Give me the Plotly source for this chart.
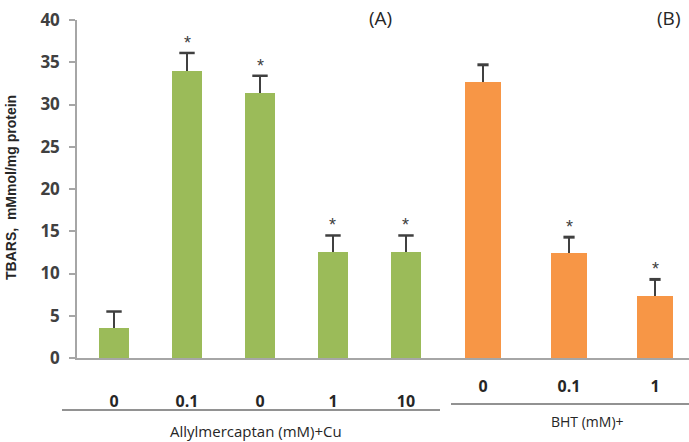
import plotly.graph_objects as go

W, H = 689, 442

# Data
a_labels = ["0", "0.1", "0", "1", "10"]
a_values = [3.5, 34.0, 31.4, 12.5, 12.5]
a_err = [2.0, 2.1, 2.0, 2.0, 2.0]
a_star = [False, True, True, True, True]

b_labels = ["0", "0.1", "1"]
b_values = [32.7, 12.4, 7.3]
b_err = [2.0, 1.9, 2.0]
b_star = [False, True, True]

y_ticks = [0, 5, 10, 15, 20, 25, 30, 35, 40]

GREEN = "#9BBB59"
ORANGE = "#F79646"
DARK = "#404040"
GRAY = "#A6A6A6"
TXT = "#262626"

def px(x):
    return x / W

def py(y):
    return (H - y) / H

a_x = list(range(len(a_labels)))
b_x = list(range(len(b_labels)))
a_top = [v + e for v, e in zip(a_values, a_err)]
b_top = [v + e for v, e in zip(b_values, b_err)]

fig = go.Figure()
fig.add_trace(go.Bar(
    x=a_x, y=a_values, width=0.41, marker=dict(color=GREEN, line=dict(width=0)),
    error_y=dict(type="data", array=a_err, arrayminus=[0]*len(a_err), symmetric=False,
                 color=DARK, thickness=2, width=0),
    xaxis="x", yaxis="y", showlegend=False))
fig.add_trace(go.Scatter(
    x=a_x, y=a_top, mode="markers", xaxis="x", yaxis="y", showlegend=False,
    marker=dict(symbol="line-ew", size=11, line=dict(color=DARK, width=2.5))))
fig.add_trace(go.Bar(
    x=b_x, y=b_values, width=0.41, marker=dict(color=ORANGE, line=dict(width=0)),
    error_y=dict(type="data", array=b_err, arrayminus=[0]*len(b_err), symmetric=False,
                 color=DARK, thickness=2.5, width=0),
    xaxis="x2", yaxis="y2", showlegend=False))
fig.add_trace(go.Scatter(
    x=b_x, y=b_top, mode="markers", xaxis="x2", yaxis="y2", showlegend=False,
    marker=dict(symbol="line-ew", size=8, line=dict(color=DARK, width=3))))

ydom = [py(358), py(20)]
tickf = dict(family="Open Sans", size=16, color=TXT, weight="bold")

fig.update_layout(
    width=W, height=H, margin=dict(l=0, r=0, t=0, b=0, autoexpand=False),
    paper_bgcolor="white", plot_bgcolor="white",
    xaxis=dict(domain=[px(77), px(440)], range=[-0.507, 4.466], automargin=False,
               tickvals=a_x, ticktext=a_labels, showgrid=False, zeroline=False,
               showline=True, linecolor=GRAY, linewidth=1.5, ticks="",
               ticklabelstandoff=28, tickfont=tickf),
    xaxis2=dict(domain=[px(440), 1.0], range=[-0.5, 2.395], anchor="y2", automargin=False,
                tickvals=b_x, ticktext=b_labels, showgrid=False, zeroline=False,
                showline=True, linecolor=GRAY, linewidth=1.5, ticks="",
                ticklabelstandoff=13, tickfont=tickf),
    yaxis=dict(domain=ydom, range=[0, 40], tickvals=y_ticks, showgrid=False, zeroline=False,
               automargin=False,
               showline=True, linecolor=GRAY, linewidth=1.5, ticks="outside", ticklen=6,
               tickcolor=GRAY, tickwidth=1.5, ticklabelstandoff=6,
               tickfont=dict(family="Open Sans", size=17, color=DARK, weight="bold")),
    yaxis2=dict(domain=ydom, range=[0, 40], anchor="x2", showgrid=False, zeroline=False,
                automargin=False,
                showline=False, showticklabels=False, ticks=""),
    bargap=0,
)

anns = []
for i, (t, s) in enumerate(zip(a_top, a_star)):
    if s:
        anns.append(dict(x=i, y=t, xref="x", yref="y", text="*", showarrow=False,
                         xanchor="center", yanchor="bottom", yshift=-2,
                         font=dict(family="Liberation Sans", size=18, color=DARK)))
for i, (t, s) in enumerate(zip(b_top, b_star)):
    if s:
        anns.append(dict(x=i, y=t, xref="x2", yref="y2", text="*", showarrow=False,
                         xanchor="center", yanchor="bottom", yshift=-2,
                         font=dict(family="Liberation Sans", size=18, color=DARK)))

def txt(x, y, text, size, bold=False, angle=0, family="Open Sans"):
    return dict(x=px(x), y=py(y), xref="paper", yref="paper", text=text, showarrow=False,
                xanchor="center", yanchor="middle", textangle=angle,
                font=dict(family=family, size=size, color=TXT,
                          weight="bold" if bold else "normal"))

anns += [
    txt(380, 18, "(A)", 19),
    txt(668, 18, "(B)", 19),
    txt(11, 188, "TBARS,  mMmol/mg protein", 14, bold=True, angle=-90, family="Liberation Sans"),
    txt(256, 431, "Allylmercaptan (mM)+Cu", 15),
    txt(587, 421, "BHT (mM)+", 14),
]
fig.update_layout(annotations=anns)

fig.add_shape(type="line", xref="paper", yref="paper", x0=px(62), x1=px(440),
              y0=py(410), y1=py(410), line=dict(color=TXT, width=1.2))
fig.add_shape(type="line", xref="paper", yref="paper", x0=px(451), x1=1.0,
              y0=py(404), y1=py(404), line=dict(color=TXT, width=1.2))

fig.write_html("out.html")
